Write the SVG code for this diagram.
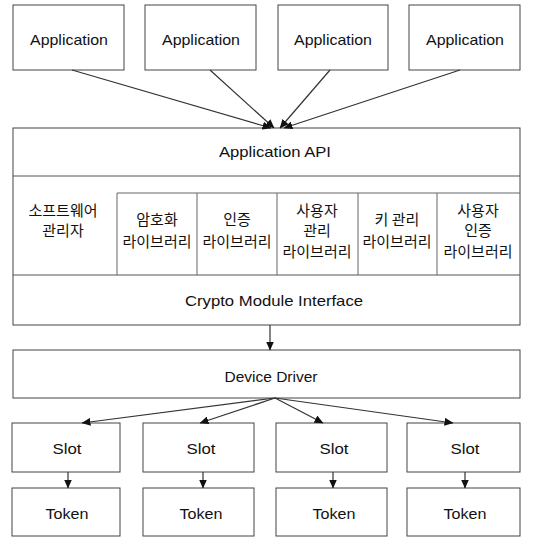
<svg xmlns="http://www.w3.org/2000/svg" width="537" height="539" viewBox="0 0 537 539">
<defs>
<marker id="ah" markerWidth="9" markerHeight="8" refX="8.5" refY="4" orient="auto" markerUnits="userSpaceOnUse">
<path d="M0,0 L9,4 L0,8 z" fill="#111"/>
</marker>
<style>
.box{fill:#fff;stroke:#444;stroke-width:1}
.sep{stroke:#555;stroke-width:1;fill:none}
.cell{fill:none;stroke:#666;stroke-width:1}
.t{font-family:"Liberation Sans",Arial,sans-serif;font-size:15px;fill:#111;text-anchor:middle}
.k{font-family:"Noto Sans CJK KR","Noto Sans",sans-serif;font-size:15px;fill:#111;text-anchor:middle}
.c{stroke:#333;stroke-width:1.2;fill:none;marker-end:url(#ah)}
</style>
</defs>
<rect width="537" height="539" fill="#fff"/>

<g id="app1"><rect class="box" x="13" y="5" width="111" height="65"/><text class="t" x="69" y="45" textLength="78" lengthAdjust="spacingAndGlyphs">Application</text></g>
<g id="app2"><rect class="box" x="145" y="5" width="111" height="65"/><text class="t" x="201" y="45" textLength="78" lengthAdjust="spacingAndGlyphs">Application</text></g>
<g id="app3"><rect class="box" x="278" y="5" width="110" height="65"/><text class="t" x="333" y="45" textLength="78" lengthAdjust="spacingAndGlyphs">Application</text></g>
<g id="app4"><rect class="box" x="409" y="5" width="111" height="65"/><text class="t" x="465" y="45" textLength="78" lengthAdjust="spacingAndGlyphs">Application</text></g>

<g id="middleware">
<rect class="box" x="13" y="128" width="507" height="197"/>
<line class="sep" x1="13" y1="176" x2="520" y2="176"/>
<line class="sep" x1="13" y1="275" x2="520" y2="275"/>
<path class="cell" d="M117,275 V193 H520 M197,193 V275 M277,193 V275 M358,193 V275 M437,193 V275"/>
</g>
<g id="api"><text class="t" x="275" y="157" textLength="112" lengthAdjust="spacingAndGlyphs">Application API</text></g>
<g id="sw-mgr"><text class="k" x="63" y="216">소프트웨어</text><text class="k" x="63" y="236">관리자</text></g>
<g id="crypto-lib"><text class="k" x="157" y="225">암호화</text><text class="k" x="157" y="247">라이브러리</text></g>
<g id="auth-lib"><text class="k" x="237" y="225">인증</text><text class="k" x="237" y="247">라이브러리</text></g>
<g id="user-mgr-lib"><text class="k" x="317" y="216">사용자</text><text class="k" x="317" y="236">관리</text><text class="k" x="317" y="257">라이브러리</text></g>
<g id="key-mgr-lib"><text class="k" x="397" y="225">키 관리</text><text class="k" x="397" y="247">라이브러리</text></g>
<g id="user-auth-lib"><text class="k" x="478" y="216">사용자</text><text class="k" x="478" y="236">인증</text><text class="k" x="478" y="257">라이브러리</text></g>
<g id="cmi"><text class="t" x="274" y="306" textLength="178" lengthAdjust="spacingAndGlyphs">Crypto Module Interface</text></g>

<g id="driver"><rect class="box" x="13" y="350" width="507" height="48"/><text class="t" x="271" y="382" textLength="93" lengthAdjust="spacingAndGlyphs">Device Driver</text></g>

<g id="slot1"><rect class="box" x="12" y="423" width="108" height="49"/><text class="t" x="67" y="454" textLength="29" lengthAdjust="spacingAndGlyphs">Slot</text></g>
<g id="slot2"><rect class="box" x="143" y="423" width="111" height="49"/><text class="t" x="201" y="454" textLength="29" lengthAdjust="spacingAndGlyphs">Slot</text></g>
<g id="slot3"><rect class="box" x="276" y="423" width="111" height="49"/><text class="t" x="334" y="454" textLength="29" lengthAdjust="spacingAndGlyphs">Slot</text></g>
<g id="slot4"><rect class="box" x="407" y="423" width="113" height="49"/><text class="t" x="465" y="454" textLength="29" lengthAdjust="spacingAndGlyphs">Slot</text></g>

<g id="token1"><rect class="box" x="12" y="488" width="108" height="48"/><text class="t" x="67" y="519" textLength="43" lengthAdjust="spacingAndGlyphs">Token</text></g>
<g id="token2"><rect class="box" x="143" y="488" width="111" height="48"/><text class="t" x="201" y="519" textLength="43" lengthAdjust="spacingAndGlyphs">Token</text></g>
<g id="token3"><rect class="box" x="276" y="488" width="111" height="48"/><text class="t" x="334" y="519" textLength="43" lengthAdjust="spacingAndGlyphs">Token</text></g>
<g id="token4"><rect class="box" x="407" y="488" width="113" height="48"/><text class="t" x="465" y="519" textLength="43" lengthAdjust="spacingAndGlyphs">Token</text></g>

<g id="connectors">
<line class="c" x1="72" y1="70" x2="271" y2="128"/>
<line class="c" x1="210" y1="70" x2="274" y2="128"/>
<line class="c" x1="330" y1="70" x2="280" y2="128"/>
<line class="c" x1="460" y1="70" x2="284" y2="128"/>
<line class="c" x1="270" y1="325" x2="270" y2="350"/>
<line class="c" x1="275" y1="398" x2="82" y2="423"/>
<line class="c" x1="275" y1="398" x2="200" y2="423"/>
<line class="c" x1="275" y1="398" x2="323" y2="423"/>
<line class="c" x1="275" y1="398" x2="453" y2="423"/>
<line class="c" x1="68" y1="472" x2="68" y2="488"/>
<line class="c" x1="203" y1="472" x2="203" y2="488"/>
<line class="c" x1="333" y1="472" x2="333" y2="488"/>
<line class="c" x1="465" y1="472" x2="465" y2="488"/>
</g>
</svg>
